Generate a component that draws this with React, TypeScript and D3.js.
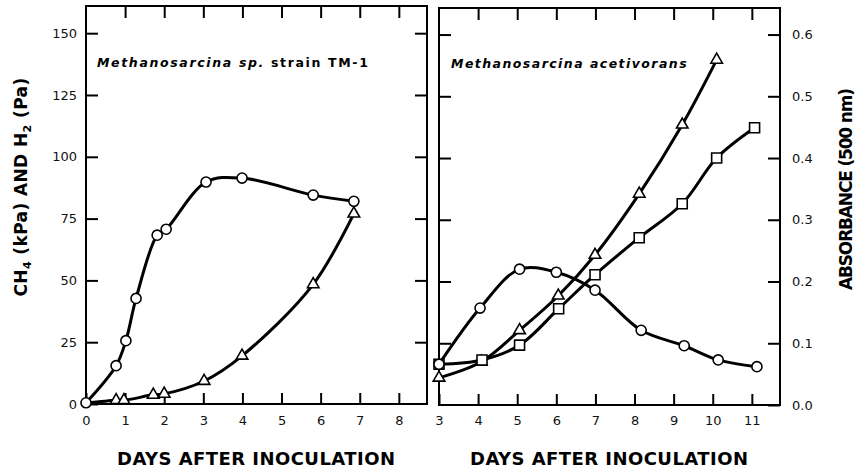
import React, { useEffect, useRef } from "react";
import * as d3 from "d3";

const W = 857;
const H = 473;

// left panel, Methanosarcina sp. strain TM-1 (CH4 kPa / H2 Pa)
const tmDaysCH4 = [0, 0.77, 1.02, 1.28, 1.82, 2.05, 3.07, 3.99, 5.81, 6.85];
const tmCH4 = [0.5, 15.5, 25.6, 42.7, 68.3, 70.7, 89.8, 91.4, 84.5, 82];
const tmDaysH2 = [0, 0.77, 0.97, 1.72, 2.0, 3.02, 3.99, 5.81, 6.85];
const tmH2 = [0.3, 1.5, 1.5, 3.7, 4.1, 9.3, 19.5, 48.4, 77];

// right panel, Methanosarcina acetivorans (absorbance axis)
const acDaysCircle = [3.0, 4.05, 5.06, 6.0, 6.99, 8.17, 9.27, 10.14, 11.13];
const acCircle = [0.066, 0.157, 0.22, 0.215, 0.186, 0.121, 0.096, 0.073, 0.062];
const acDaysTriangle = [3.0, 4.08, 5.06, 6.05, 6.99, 8.12, 9.22, 10.1];
const acTriangle = [0.044, 0.07, 0.121, 0.177, 0.243, 0.342, 0.454, 0.559];
const acDaysSquare = [3.0, 4.1, 5.06, 6.06, 6.99, 8.12, 9.22, 10.1, 11.07];
const acSquare = [0.066, 0.073, 0.097, 0.156, 0.211, 0.271, 0.326, 0.4, 0.449];

const leftXTicks = [0, 1, 2, 3, 4, 5, 6, 7, 8];
const leftYTicks = [0, 25, 50, 75, 100, 125, 150];
const rightXTicks = [3, 4, 5, 6, 7, 8, 9, 10, 11];
const rightYTicks = [0, 0.1, 0.2, 0.3, 0.4, 0.5, 0.6];

const FONT = "DejaVu Sans, Verdana, sans-serif";

type Pt = { x: number; y: number };
const zip = (xs: number[], ys: number[]): Pt[] => xs.map((x, i) => ({ x, y: ys[i] }));

export default function App() {
  const ref = useRef<SVGSVGElement>(null);

  useEffect(() => {
    const svg = d3.select(ref.current);
    svg.selectAll("*").remove();

    // ---- shared helpers
    const frame = (x: any, y: any) => {
      const [x0, x1] = x.range();
      const [y0, y1] = y.range();
      svg
        .append("rect")
        .attr("x", x0)
        .attr("y", y1)
        .attr("width", x1 - x0)
        .attr("height", y0 - y1)
        .attr("fill", "none")
        .attr("stroke", "#000")
        .attr("stroke-width", 2);
    };

    const styleAxis = (g: any) => {
      g.select(".domain").remove();
      g.selectAll("line").attr("stroke", "#000").attr("stroke-width", 2);
      g.selectAll("text").attr("font-family", FONT).attr("font-size", 13).attr("fill", "#111");
    };

    const drawLine = (x: any, y: any, pts: Pt[]) => {
      svg
        .append("path")
        .datum(pts)
        .attr("fill", "none")
        .attr("stroke", "#000")
        .attr("stroke-width", 3)
        .attr(
          "d",
          d3
            .line<Pt>()
            .x((d) => x(d.x))
            .y((d) => y(d.y))
            .curve(d3.curveCatmullRom.alpha(0.5))
        );
    };

    const drawMarks = (x: any, y: any, pts: Pt[], type: any, size: number) => {
      svg
        .append("g")
        .selectAll("path")
        .data(pts)
        .enter()
        .append("path")
        .attr("transform", (d) => `translate(${x(d.x)},${y(d.y)})`)
        .attr("d", d3.symbol(type, size)())
        .attr("fill", "#fff")
        .attr("stroke", "#000")
        .attr("stroke-width", 1.6);
    };

    // ---- left panel
    const xL = d3.scaleLinear().domain([0, 8.72]).range([86, 427]);
    const yL = d3.scaleLinear().domain([0, 161]).range([404, 6]);
    frame(xL, yL);

    svg
      .append("g")
      .attr("transform", `translate(0,${yL(0)})`)
      .call(d3.axisBottom(xL).tickValues(leftXTicks).tickSize(-11).tickPadding(12).tickFormat(d3.format("d")))
      .call(styleAxis);
    svg
      .append("g")
      .attr("transform", `translate(0,${yL.range()[1]})`)
      .call(d3.axisTop(xL).tickValues(leftXTicks.slice(1)).tickSize(-12).tickFormat(() => ""))
      .call(styleAxis);
    svg
      .append("g")
      .attr("transform", `translate(${xL(0)},0)`)
      .call(d3.axisLeft(yL).tickValues(leftYTicks).tickSize(-12).tickPadding(9).tickFormat(d3.format("d")))
      .call(styleAxis);
    svg
      .append("g")
      .attr("transform", `translate(${xL.range()[1]},0)`)
      .call(d3.axisRight(yL).tickValues(leftYTicks.slice(1)).tickSize(-12).tickFormat(() => ""))
      .call(styleAxis);

    const ch4 = zip(tmDaysCH4, tmCH4);
    const h2 = zip(tmDaysH2, tmH2);
    drawLine(xL, yL, ch4);
    drawLine(xL, yL, h2);
    drawMarks(xL, yL, h2.slice(1), d3.symbolTriangle, 58);
    drawMarks(xL, yL, ch4, d3.symbolCircle, 80);

    // ---- right panel
    const xR = d3.scaleLinear().domain([3, 11.72]).range([439, 780]);
    const yR = d3.scaleLinear().domain([0, 0.643]).range([405, 8]);
    frame(xR, yR);

    svg
      .append("g")
      .attr("transform", `translate(0,${yR(0)})`)
      .call(d3.axisBottom(xR).tickValues(rightXTicks).tickSize(-11).tickPadding(11).tickFormat(d3.format("d")))
      .call(styleAxis);
    svg
      .append("g")
      .attr("transform", `translate(0,${yR.range()[1]})`)
      .call(d3.axisTop(xR).tickValues(rightXTicks.slice(1)).tickSize(-12).tickFormat(() => ""))
      .call(styleAxis);
    svg
      .append("g")
      .attr("transform", `translate(${xR(3)},0)`)
      .call(d3.axisLeft(yR).tickValues(rightYTicks.slice(1)).tickSize(-12).tickFormat(() => ""))
      .call(styleAxis);
    svg
      .append("g")
      .attr("transform", `translate(${xR.range()[1]},0)`)
      .call(d3.axisRight(yR).tickValues(rightYTicks).tickSize(-12).tickPadding(12).tickFormat(d3.format(".1f")))
      .call(styleAxis);

    const circ = zip(acDaysCircle, acCircle);
    const tri = zip(acDaysTriangle, acTriangle);
    const sq = zip(acDaysSquare, acSquare);
    drawLine(xR, yR, tri);
    drawLine(xR, yR, sq);
    drawLine(xR, yR, circ);
    drawMarks(xR, yR, tri, d3.symbolTriangle, 58);
    drawMarks(xR, yR, sq, d3.symbolSquare, 100);
    drawMarks(xR, yR, circ, d3.symbolCircle, 80);

    // ---- annotations
    const t1 = svg
      .append("text")
      .attr("x", 97)
      .attr("y", 67)
      .attr("font-family", FONT)
      .attr("font-size", 12.5)
      .attr("font-weight", "bold")
      .attr("letter-spacing", 1.65);
    t1.append("tspan").attr("font-style", "italic").text("Methanosarcina sp.");
    t1.append("tspan").text(" strain TM-1");

    svg
      .append("text")
      .attr("x", 451)
      .attr("y", 68)
      .attr("font-family", FONT)
      .attr("font-size", 12.5)
      .attr("font-weight", "bold")
      .attr("font-style", "italic")
      .attr("letter-spacing", 1.45)
      .text("Methanosarcina acetivorans");

    // ---- axis titles
    const xTitle = (cx: number) =>
      svg
        .append("text")
        .attr("x", cx)
        .attr("y", 465)
        .attr("text-anchor", "middle")
        .attr("font-family", FONT)
        .attr("font-size", 18)
        .attr("font-weight", "bold")
        .attr("textLength", 278)
        .attr("lengthAdjust", "spacing")
        .text("DAYS AFTER INOCULATION");
    xTitle(256);
    xTitle(609);

    const yt = svg
      .append("text")
      .attr("transform", "translate(27,187) rotate(-90)")
      .attr("text-anchor", "middle")
      .attr("font-family", FONT)
      .attr("font-size", 17)
      .attr("font-weight", "bold")
      .attr("letter-spacing", 0.4);
    yt.append("tspan").text("CH");
    yt.append("tspan").attr("font-size", 11).attr("dy", 4).text("4");
    yt.append("tspan").attr("dy", -4).text(" (kPa) AND H");
    yt.append("tspan").attr("font-size", 11).attr("dy", 4).text("2");
    yt.append("tspan").attr("dy", -4).text(" (Pa)");

    svg
      .append("text")
      .attr("transform", "translate(852,189) rotate(-90)")
      .attr("text-anchor", "middle")
      .attr("font-family", FONT)
      .attr("font-size", 17)
      .attr("font-weight", "bold")
      .attr("textLength", 202)
      .attr("lengthAdjust", "spacing")
      .text("ABSORBANCE (500 nm)");
  }, []);

  return (
    <svg
      ref={ref}
      width={W}
      height={H}
      style={{ position: "absolute", left: 0, top: 0, background: "#fff" }}
    />
  );
}
